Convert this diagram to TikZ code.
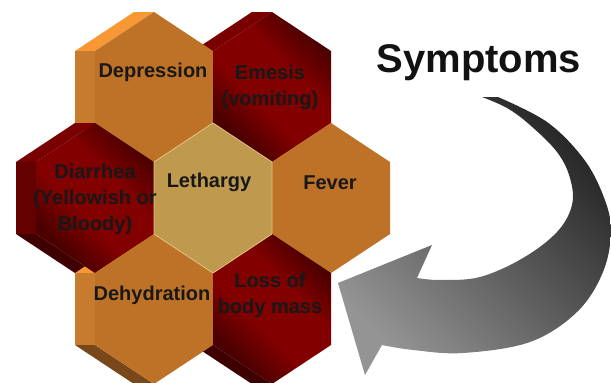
\documentclass[tikz,border=0pt]{standalone}
\usepackage{fontspec}
\setmainfont{Liberation Sans}
\usepackage{tikz}
\usetikzlibrary{calc}
\definecolor{orfront}{RGB}{190,114,40}
\definecolor{ortop}{RGB}{247,152,52}
\definecolor{orside}{RGB}{198,123,47}
\definecolor{orbot}{RGB}{120,72,26}
\definecolor{rdlight}{RGB}{130,0,0}
\definecolor{rddark}{RGB}{76,0,0}
\definecolor{rdtop}{RGB}{122,0,0}
\definecolor{rdside}{RGB}{100,0,0}
\definecolor{rdbot}{RGB}{62,0,0}
\definecolor{tnfront}{RGB}{190,153,78}
\definecolor{tnedge}{RGB}{226,196,130}
\definecolor{tntop}{RGB}{200,165,90}
\definecolor{tnside}{RGB}{160,125,60}
\definecolor{tnbot}{RGB}{120,95,45}
\definecolor{labelink}{RGB}{24,24,24}
\pgfdeclareverticalshading{redband}{100bp}{color(0bp)=(rddark); color(28bp)=(rddark); color(42bp)=(rdlight); color(60bp)=(rdlight); color(74bp)=(rddark); color(100bp)=(rddark)}

\begin{document}
\begin{tikzpicture}[x=1pt,y=-1pt,
    orcell/.style={fill=orfront},
    rdcell/.style={shading=redband, shading angle=-45},
    tncell/.style={fill=tnfront, draw=tnedge, line width=0.8pt},
    cell text/.style={font=\bfseries\fontsize{20}{26}\selectfont, text=labelink, align=center, inner sep=0pt},
    arrow shade/.style={top color=black!85, bottom color=black!42, shading angle=-45}]

  \useasboundingbox (0,0) rectangle (611,383);

  % extruded sides, seen from the left
  \foreach \cx/\cy/\kind in {154/87/or, 272/87/rd, 95/198/rd, 213/198/tn, 331/198/or, 154/309/or, 272/309/rd}{
    \fill[\kind top] (\cx-59,\cy-36) -- (\cx,\cy-75) -- (\cx-20,\cy-75) -- (\cx-79,\cy-36) -- cycle;
    \fill[\kind side] (\cx-59,\cy-36) -- (\cx-59,\cy+36) -- (\cx-79,\cy+36) -- (\cx-79,\cy-36) -- cycle;
    \fill[\kind bot] (\cx-59,\cy+36) -- (\cx,\cy+75) -- (\cx-20,\cy+75) -- (\cx-79,\cy+36) -- cycle;
  }

  % front faces
  \foreach \cx/\cy/\kind in {154/87/or, 272/87/rd, 95/198/rd, 331/198/or, 154/309/or, 272/309/rd, 213/198/tn}{
    \path[\kind cell] (\cx,\cy-75) -- (\cx+59,\cy-36) -- (\cx+59,\cy+36) -- (\cx,\cy+75)
      -- (\cx-59,\cy+36) -- (\cx-59,\cy-36) -- cycle;
  }

  \node[cell text] (dep) at (153,72) {Depression};
  \node[cell text] (eme) at (270,87) {Emesis\\(vomiting)};
  \node[cell text] (dia) at (95,199) {Diarrhea\\(Yellowish or\\Bloody)};
  \node[cell text] (let) at (209,182) {Lethargy};
  \node[cell text] (fev) at (330,183) {Fever};
  \node[cell text] (deh) at (152,295) {Dehydration};
  \node[cell text] (los) at (270,295) {Loss of\\body mass};

  \node[font=\bfseries\fontsize{40}{48}\selectfont, text=black!93, inner sep=0pt] (sym) at (479,63) {Symptoms};

  % curved arrow
  \shade[arrow shade] (482,97) -- plot[smooth, tension=0.6] coordinates {(498,97) (547,122) (583,158) (603,195) (611,230) (603,272) (577,312) (530,342) (463,353) (413,350) (382,345)}
    -- (365,375) -- (338,283) -- (432,245)
    -- plot[smooth, tension=0.6] coordinates {(417,278) (440,280) (480,277) (523,258) (557,232) (572,205) (570,178) (557,152) (530,125) (507,108) (482,97)}
    -- cycle;
\end{tikzpicture}
\end{document}
